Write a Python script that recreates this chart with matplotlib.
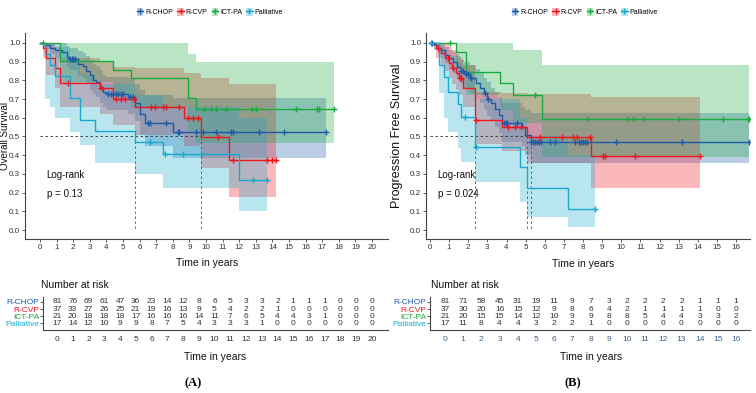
import matplotlib
matplotlib.use("Agg")
import matplotlib.pyplot as plt
import numpy as np
from matplotlib.patches import Patch
from matplotlib.lines import Line2D

plt.rcParams['font.family'] = ['Liberation Sans', 'DejaVu Sans']

W, H = 756, 393

groups = ["R-CHOP", "R-CVP", "ICT-PA", "Palliative"]
colors = ["#1F5AA6", "#F0161E", "#1AAB40", "#18A9CC"]

# ---------------- (A) overall survival ----------------
os_chop_t = [0, 0.3, 0.6, 0.9, 1.3, 1.6, 1.75, 2.3, 2.6, 2.8, 3.0, 3.2, 3.4, 3.6, 3.8, 4.0, 5.3, 5.7, 6.0, 6.3, 8.0]
os_chop_s = [1.0, 0.988, 0.975, 0.963, 0.95, 0.926, 0.914, 0.889, 0.877, 0.852, 0.827, 0.802, 0.79, 0.765, 0.74, 0.728, 0.713, 0.678, 0.62, 0.57, 0.522]
os_chop_lo = [1.0, 0.965, 0.94, 0.92, 0.90, 0.87, 0.855, 0.825, 0.81, 0.78, 0.75, 0.725, 0.71, 0.68, 0.655, 0.64, 0.62, 0.58, 0.51, 0.45, 0.387]
os_chop_hi = [1.0, 1.0, 1.0, 1.0, 1.0, 0.985, 0.975, 0.955, 0.945, 0.93, 0.91, 0.885, 0.875, 0.855, 0.83, 0.82, 0.81, 0.78, 0.75, 0.72, 0.704]
os_chop_end = 17.2
os_chop_cens = [1.8, 1.9, 2.0, 2.1, 4.1, 4.25, 4.4, 4.55, 4.7, 4.85, 5.0, 5.45, 5.6, 6.5, 6.6, 7.6,
                8.3, 8.4, 9.4, 9.8, 10.6, 11.5, 11.6, 13.2, 14.7, 17.2]

os_cvp_t = [0, 0.2, 0.35, 0.9, 1.2, 3.6, 4.4, 5.7, 8.7, 9.7, 11.4]
os_cvp_s = [1.0, 0.973, 0.919, 0.865, 0.784, 0.757, 0.70, 0.656, 0.597, 0.499, 0.374]
os_cvp_lo = [1.0, 0.92, 0.83, 0.76, 0.66, 0.62, 0.56, 0.51, 0.45, 0.33, 0.178]
os_cvp_hi = [1.0, 1.0, 1.0, 0.98, 0.92, 0.90, 0.87, 0.866, 0.84, 0.81, 0.779]
os_cvp_end = 14.2
os_cvp_cens = [1.7, 3.65, 4.6, 4.9, 5.1, 5.65, 6.7, 6.9, 7.4, 7.6, 8.4, 8.9, 9.2, 9.5, 10.7,
               11.6, 13.7, 14.0, 14.2]

os_ict_t = [0, 1.2, 4.4, 5.5, 8.9, 9.4]
os_ict_s = [1.0, 0.905, 0.857, 0.81, 0.705, 0.647]
os_ict_lo = [1.0, 0.79, 0.72, 0.66, 0.53, 0.467]
os_ict_hi = [1.0, 1.0, 1.0, 1.0, 0.94, 0.897]
os_ict_end = 17.7
os_ict_cens = [0.2, 9.85, 10.3, 10.6, 11.2, 12.75, 13.0, 15.4, 16.7, 16.8, 17.7]

os_pal_t = [0, 0.3, 0.6, 0.9, 1.8, 2.4, 3.3, 5.7, 7.4, 12.0]
os_pal_s = [1.0, 0.941, 0.882, 0.824, 0.706, 0.588, 0.53, 0.472, 0.406, 0.27]
os_pal_lo = [1.0, 0.70, 0.66, 0.60, 0.526, 0.455, 0.357, 0.30, 0.225, 0.103]
os_pal_hi = [1.0, 1.0, 1.0, 0.98, 0.92, 0.83, 0.78, 0.72, 0.66, 0.60]
os_pal_end = 13.7
os_pal_cens = [6.6, 7.5, 8.6, 9.7, 12.8, 13.7]

os_risk_chop = [81, 76, 69, 61, 47, 36, 23, 14, 12, 8, 6, 5, 3, 3, 2, 1, 1, 1, 0, 0, 0]
os_risk_cvp = [37, 33, 27, 26, 25, 21, 19, 16, 13, 9, 5, 4, 2, 2, 1, 0, 0, 0, 0, 0, 0]
os_risk_ict = [21, 20, 18, 18, 18, 17, 16, 16, 16, 14, 11, 7, 6, 5, 4, 4, 3, 1, 0, 0, 0]
os_risk_pal = [17, 14, 12, 10, 9, 9, 8, 7, 5, 4, 3, 3, 3, 1, 0, 0, 0, 0, 0, 0, 0]
os_pval = "p = 0.13"

# ---------------- (B) progression free survival ----------------
pfs_chop_t = [0, 0.2, 0.4, 0.6, 0.8, 1.0, 1.2, 1.4, 1.6, 1.8, 2.1, 2.4, 2.6, 2.8, 3.0, 3.2, 3.4, 3.6, 3.75, 4.8, 4.97, 5.28]
pfs_chop_s = [1.0, 0.988, 0.975, 0.963, 0.938, 0.918, 0.90, 0.873, 0.85, 0.835, 0.81, 0.785, 0.76, 0.73, 0.70, 0.677, 0.645, 0.615, 0.57, 0.552, 0.508, 0.469]
pfs_chop_lo = [1.0, 0.96, 0.94, 0.92, 0.89, 0.86, 0.84, 0.81, 0.78, 0.76, 0.73, 0.70, 0.68, 0.64, 0.61, 0.58, 0.55, 0.52, 0.47, 0.45, 0.40, 0.357]
pfs_chop_hi = [1.0, 1.0, 1.0, 0.99, 0.98, 0.96, 0.95, 0.93, 0.91, 0.90, 0.88, 0.86, 0.84, 0.81, 0.79, 0.76, 0.74, 0.71, 0.68, 0.66, 0.64, 0.624]
pfs_chop_end = 16.7
pfs_chop_cens = [0.1, 1.6, 1.75, 1.9, 2.0, 2.15, 2.9, 3.05, 3.85, 3.95, 4.05, 4.55, 5.3, 5.4, 5.5,
                 5.6, 5.7, 5.8, 6.25, 6.55, 7.6, 7.8, 7.9, 8.0, 8.1, 8.2, 9.7, 13.2, 16.7]

pfs_cvp_t = [0, 0.3, 0.55, 0.8, 1.0, 1.15, 1.35, 1.5, 1.7, 2.35, 3.75, 5.06, 8.4]
pfs_cvp_s = [1.0, 0.973, 0.946, 0.919, 0.892, 0.865, 0.838, 0.81, 0.757, 0.588, 0.549, 0.499, 0.397]
pfs_cvp_lo = [1.0, 0.92, 0.88, 0.85, 0.81, 0.78, 0.75, 0.72, 0.66, 0.46, 0.42, 0.36, 0.223]
pfs_cvp_hi = [1.0, 1.0, 1.0, 1.0, 0.98, 0.96, 0.94, 0.92, 0.88, 0.74, 0.73, 0.725, 0.713]
pfs_cvp_end = 14.1
pfs_cvp_cens = [0.4, 0.95, 1.2, 1.55, 1.6, 2.42, 4.1, 4.45, 4.75, 5.75, 6.9, 7.5, 7.7, 8.35,
                9.05, 9.15, 10.7, 14.1]

pfs_ict_t = [0, 1.35, 1.9, 3.66, 4.35, 5.86]
pfs_ict_s = [1.0, 0.952, 0.845, 0.784, 0.722, 0.592]
pfs_ict_lo = [1.0, 0.86, 0.72, 0.64, 0.57, 0.392]
pfs_ict_hi = [1.0, 1.0, 1.0, 1.0, 0.96, 0.882]
pfs_ict_end = 16.7
pfs_ict_cens = [1.05, 5.5, 8.2, 10.3, 10.6, 11.15, 13.0, 15.3, 16.65, 16.7]

pfs_pal_t = [0, 0.45, 0.75, 0.95, 1.48, 1.6, 2.35, 4.7, 5.05, 7.24]
pfs_pal_s = [1.0, 0.88, 0.82, 0.735, 0.676, 0.606, 0.446, 0.335, 0.225, 0.112]
pfs_pal_lo = [1.0, 0.73, 0.60, 0.525, 0.44, 0.365, 0.258, 0.15, 0.07, 0.018]
pfs_pal_hi = [1.0, 1.0, 0.97, 0.93, 0.89, 0.84, 0.70, 0.60, 0.50, 0.40]
pfs_pal_end = 8.63
pfs_pal_cens = [0.05, 1.83, 2.42, 8.63]

pfs_risk_chop = [81, 71, 58, 45, 31, 19, 11, 9, 7, 3, 2, 2, 2, 2, 1, 1, 1]
pfs_risk_cvp = [37, 30, 20, 16, 15, 12, 9, 8, 6, 4, 2, 1, 1, 1, 1, 0, 0]
pfs_risk_ict = [21, 20, 15, 15, 14, 12, 10, 9, 9, 8, 8, 5, 4, 4, 3, 3, 2]
pfs_risk_pal = [17, 11, 8, 4, 4, 3, 2, 2, 1, 0, 0, 0, 0, 0, 0, 0, 0]
pfs_pval = "p = 0.024"


def px_axes(fig, x0, y0, x1, y1):
    return fig.add_axes([x0 / W, 1 - y1 / H, (x1 - x0) / W, (y1 - y0) / H])


def style_axis(ax):
    for side in ["top", "right"]:
        ax.spines[side].set_visible(False)
    for side in ["left", "bottom"]:
        ax.spines[side].set_color("#444444")
        ax.spines[side].set_linewidth(0.8)
    ax.tick_params(colors="#444444", labelcolor="#333333", labelsize=5.8,
                   length=2.5, width=0.6, pad=1)


def draw_km(ax, curves, xmax, xlim, pval):
    medians = []
    for (t, s, lo, hi, t_end, cens), col in zip(curves, colors):
        tt = np.append(t, t_end)
        ll = np.append(lo, lo[-1])
        hh = np.append(hi, hi[-1])
        ax.fill_between(tt, ll, hh, step="post", color=col, alpha=0.3, lw=0)
    for (t, s, lo, hi, t_end, cens), col in zip(curves, colors):
        tt = np.append(t, t_end)
        ss = np.append(s, s[-1])
        ax.step(tt, ss, where="post", color=col, lw=1.0, zorder=3)
        sa = np.asarray(s)
        idx = np.searchsorted(t, cens, side="right") - 1
        ax.plot(cens, sa[idx], "+", color=col, ms=5, mew=1.0, zorder=4)
        if sa.min() <= 0.5:
            medians.append(t[int(np.argmax(sa <= 0.5))])
    if medians:
        ax.plot([0, max(medians)], [0.5, 0.5], color="#333333", lw=0.6, ls=(0, (3, 3)), zorder=2)
        for m in medians:
            ax.plot([m, m], [0.5, 0], color="#555555", lw=0.6, ls=(0, (3, 3)), zorder=2)
    ax.set_xlim(*xlim)
    ax.set_ylim(-0.048, 1.053)
    ax.set_xticks(range(0, xmax + 1))
    ticks = np.arange(0, 1.01, 0.1)
    ax.set_yticks(ticks)
    ax.set_yticklabels([f"{v:.1f}" for v in ticks])
    style_axis(ax)
    ax.text(0.4, 0.294, "Log-rank", fontsize=7, va="center", ha="left", color="#111111")
    ax.text(0.4, 0.19, pval, fontsize=7, va="center", ha="left", color="#111111")


def draw_table(ax, rows, xmax, xlim, tick_color):
    ypos = [4, 3, 2, 1]
    for row, y in zip(rows, ypos):
        for i, n in enumerate(row):
            ax.text(i, y, str(n), ha="center", va="center", fontsize=6, color="#333333")
    ax.set_xlim(*xlim)
    ax.set_ylim(0.056, 4.7)
    ax.set_xticks(range(0, xmax + 1))
    ax.set_yticks(ypos)
    ax.set_yticklabels(groups)
    style_axis(ax)
    ax.tick_params(axis="y", labelsize=6, pad=0.5, length=2)
    ax.tick_params(axis="x", labelcolor=tick_color, labelsize=6, length=0, pad=4)
    for lab, col in zip(ax.get_yticklabels(), colors):
        lab.set_color(col)


fig = plt.figure(figsize=(W / 100, H / 100), dpi=100)

os_curves = [
    (os_chop_t, os_chop_s, os_chop_lo, os_chop_hi, os_chop_end, os_chop_cens),
    (os_cvp_t, os_cvp_s, os_cvp_lo, os_cvp_hi, os_cvp_end, os_cvp_cens),
    (os_ict_t, os_ict_s, os_ict_lo, os_ict_hi, os_ict_end, os_ict_cens),
    (os_pal_t, os_pal_s, os_pal_lo, os_pal_hi, os_pal_end, os_pal_cens),
]
pfs_curves = [
    (pfs_chop_t, pfs_chop_s, pfs_chop_lo, pfs_chop_hi, pfs_chop_end, pfs_chop_cens),
    (pfs_cvp_t, pfs_cvp_s, pfs_cvp_lo, pfs_cvp_hi, pfs_cvp_end, pfs_cvp_cens),
    (pfs_ict_t, pfs_ict_s, pfs_ict_lo, pfs_ict_hi, pfs_ict_end, pfs_ict_cens),
    (pfs_pal_t, pfs_pal_s, pfs_pal_lo, pfs_pal_hi, pfs_pal_end, pfs_pal_cens),
]

# main panels
axA = px_axes(fig, 25, 33, 388, 239)
draw_km(axA, os_curves, 20, (-0.904, 20.96), os_pval)
axB = px_axes(fig, 426, 33, 750, 239)
draw_km(axB, pfs_curves, 16, (-0.209, 16.73), pfs_pval)

# risk tables
tA = px_axes(fig, 43, 297, 388, 330)
draw_table(tA, [os_risk_chop, os_risk_cvp, os_risk_ict, os_risk_pal], 20, (-0.889, 21.02), "#333333")
tB = px_axes(fig, 430, 297, 750, 330)
draw_table(tB, [pfs_risk_chop, pfs_risk_cvp, pfs_risk_ict, pfs_risk_pal], 16, (-0.825, 16.77), "#3D5F86")

# axis titles
fig.text(5.5 / W, 1 - 136 / H, "Overall Survival", rotation=90, ha="center", va="center",
         fontsize=7, color="#111111")
fig.text(397 / W, 1 - 136 / H, "Progression Free Survival", rotation=90, ha="center", va="center",
         fontsize=9, color="#111111")
fig.text(207 / W, 1 - 263 / H, "Time in years", ha="center", va="center", fontsize=7.5, color="#111111")
fig.text(583 / W, 1 - 264 / H, "Time in years", ha="center", va="center", fontsize=7.5, color="#111111")
fig.text(215 / W, 1 - 357 / H, "Time in years", ha="center", va="center", fontsize=7.5, color="#111111")
fig.text(591 / W, 1 - 357 / H, "Time in years", ha="center", va="center", fontsize=7.5, color="#111111")
fig.text(41 / W, 1 - 285 / H, "Number at risk", ha="left", va="center", fontsize=7.5, color="#111111")
fig.text(431 / W, 1 - 285 / H, "Number at risk", ha="left", va="center", fontsize=7.5, color="#111111")
fig.text(193 / W, 1 - 383 / H, "(A)", ha="center", va="center", fontsize=9, weight="bold",
         family=["Liberation Serif", "DejaVu Serif"])
fig.text(573 / W, 1 - 383 / H, "(B)", ha="center", va="center", fontsize=9, weight="bold",
         family=["Liberation Serif", "DejaVu Serif"])

# legends
handles = [(Patch(facecolor=c, alpha=0.3, edgecolor="none"),
            Line2D([], [], color=c, marker="+", ms=5, mew=1.0, lw=1.0)) for c in colors]
for cx in (210, 585):
    fig.legend(handles, groups, loc="center", bbox_to_anchor=(cx / W, 1 - 12 / H), ncol=4,
               frameon=False, fontsize=5, handlelength=0.9, handleheight=1.5,
               handletextpad=0.3, columnspacing=0.6, borderpad=0)

fig.savefig("out.png", dpi=100)
